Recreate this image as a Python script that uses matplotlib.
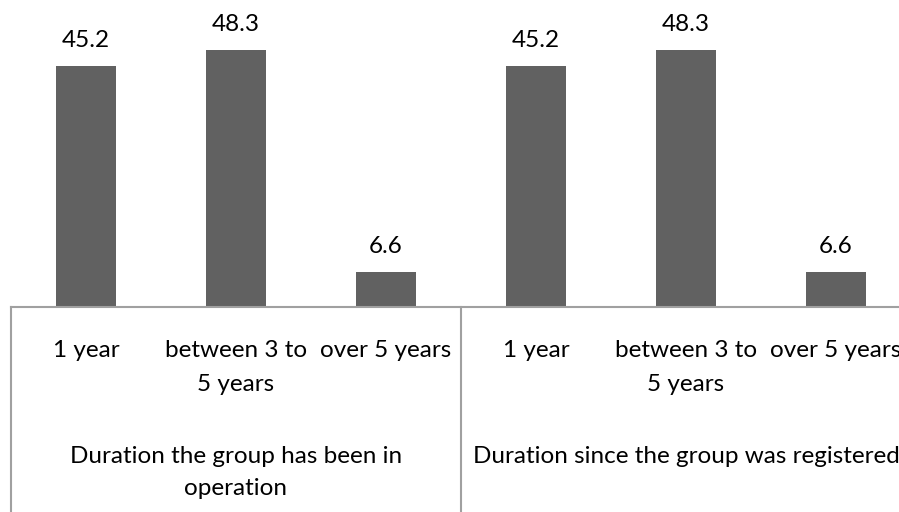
import matplotlib.pyplot as plt

# Values
categories = ["1 year", "between 3 to\n5 years", "over 5 years",
              "1 year", "between 3 to\n5 years", "over 5 years"]
values = [45.2, 48.3, 6.6, 45.2, 48.3, 6.6]
groups = ["Duration the group has been in\noperation",
          "Duration since the group was registered"]

plt.rcParams['font.family'] = ['Lato', 'DejaVu Sans']
FS = 17.5

W, H = 899, 512
fig = plt.figure(figsize=(W / 100, H / 100), dpi=100)
# axes runs from x=11px to 911px (past the right edge), baseline at y=307px
ax = fig.add_axes([11 / W, (H - 307) / H, 900 / W, 307 / H])

bar_color = '#616161'
line_color = '#a0a0a0'

x = list(range(len(values)))
bars = ax.bar(x, values, width=0.4, color=bar_color)
ax.set_xlim(-0.5, len(values) - 0.5)
ax.set_ylim(0, 307 / 5.33)

for xi, v in zip(x, values):
    ax.annotate(f"{v}", (xi, v), xytext=(0, 13.5), textcoords='offset points',
                ha='center', va='baseline', fontsize=FS, color='black')

for s in ['top', 'left', 'right']:
    ax.spines[s].set_visible(False)
ax.spines['bottom'].set_color(line_color)
ax.spines['bottom'].set_linewidth(1.5)
ax.set_xticks([])
ax.set_yticks([])


def py(p):
    # pixel row from top -> axes fraction
    return (307 - p) / 307


tr = ax.get_xaxis_transform()

for xi, lab in zip(x, categories):
    lines = lab.split("\n")
    for k, ln in enumerate(lines):
        ax.text(xi, py(357 + 34 * k), ln, transform=tr, ha='center',
                va='baseline', fontsize=FS, clip_on=False)

for g, lab in enumerate(groups):
    cx = 3 * g + 1
    for k, ln in enumerate(lab.split("\n")):
        ax.text(cx, py(463 + 32 * k), ln, transform=tr, ha='center',
                va='baseline', fontsize=FS, clip_on=False)

# group divider lines
for xd in [-0.5, 2.5, 5.5]:
    ax.plot([xd, xd], [0, py(515)], transform=tr, color=line_color,
            linewidth=1.5, clip_on=False)

fig.savefig("out.png", dpi=100)
